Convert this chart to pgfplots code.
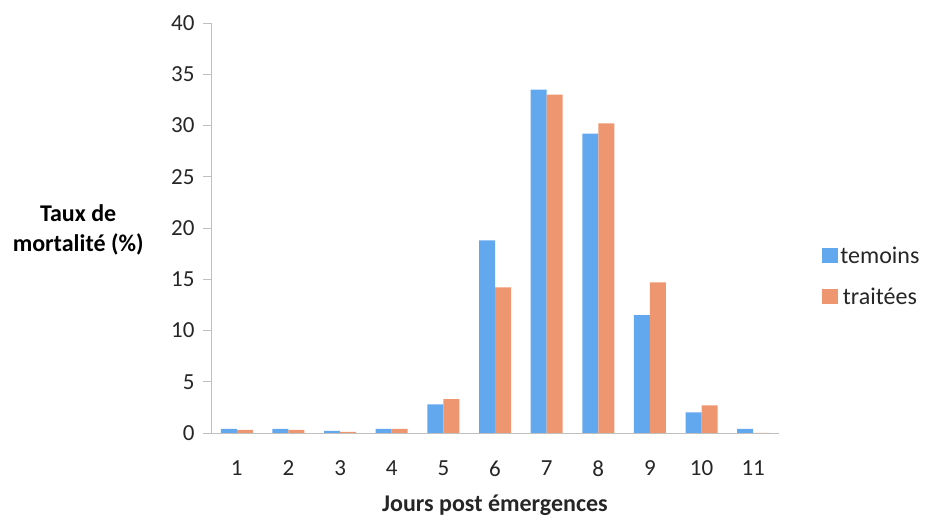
\documentclass[border=0pt]{standalone}
\usepackage{fontspec}
\setmainfont{Carlito}
\usepackage{pgfplots}
\pgfplotsset{compat=1.18}
\definecolor{tblue}{HTML}{62A8EE}
\definecolor{torange}{HTML}{EE9670}
\definecolor{axgray}{HTML}{BFBFBF}
\definecolor{txt}{HTML}{262626}
\begin{document}
\begin{tikzpicture}
\useasboundingbox (-211pt,-91pt) rectangle (720pt,433pt);
\begin{axis}[
  at={(0,0)}, anchor=south west,
  scale only axis, width=568pt, height=410pt,
  xmin=0.5, xmax=11.5, ymin=0, ymax=40,
  ybar, bar width=16pt,
  xtick={1,...,11},
  extra x ticks={0.5,1.5,...,11.5},
  extra x tick labels={},
  extra x tick style={major tick length=6pt, tick style={axgray}, tick align=outside},
  major x tick style={draw=none},
  ytick={0,5,...,40},
  major tick length=8pt,
  tick align=outside,
  axis x line*=bottom, axis y line*=left,
  axis line style={axgray, line width=0.8pt},
  every tick/.style={axgray, line width=0.8pt},
  tick label style={font=\fontsize{23}{26}\selectfont, text=txt},
  /pgf/number format/assume math mode=true,
  xticklabel style={yshift=-16pt},
  yticklabel style={xshift=-5pt},
  xlabel={\bfseries Jours post émergences},
  xlabel style={font=\fontsize{24}{28}\selectfont, text=txt, at={(rel axis cs:0.5,0)}, anchor=center, yshift=-72pt},
  legend style={draw=none, fill=none, at={(1.076,0.382)}, anchor=west,
    font=\fontsize{24}{28}\selectfont, text=txt, row sep=19pt, inner sep=0pt,
    nodes={inner xsep=2pt}},
  legend image code/.code={\fill[#1] (0pt,-7.5pt) rectangle (16pt,7.5pt);},
  clip=false,
]
\addplot[fill=tblue, draw=none, bar shift=-8pt] coordinates {
(1,0.4) (2,0.4) (3,0.2) (4,0.4) (5,2.8) (6,18.8) (7,33.5) (8,29.2) (9,11.5) (10,2.0) (11,0.4)};
\addplot[fill=torange, draw=none, bar shift=8pt] coordinates {
(1,0.3) (2,0.3) (3,0.1) (4,0.4) (5,3.3) (6,14.2) (7,33.0) (8,30.2) (9,14.7) (10,2.7) (11,0)};
\legend{temoins, traitées}
\node[anchor=east, align=center, font=\fontsize{24}{30}\selectfont\bfseries, text=black] at ([xshift=-64pt]rel axis cs:0,0.495) {Taux de\\mortalité (\%)};
\end{axis}
\end{tikzpicture}
\end{document}
